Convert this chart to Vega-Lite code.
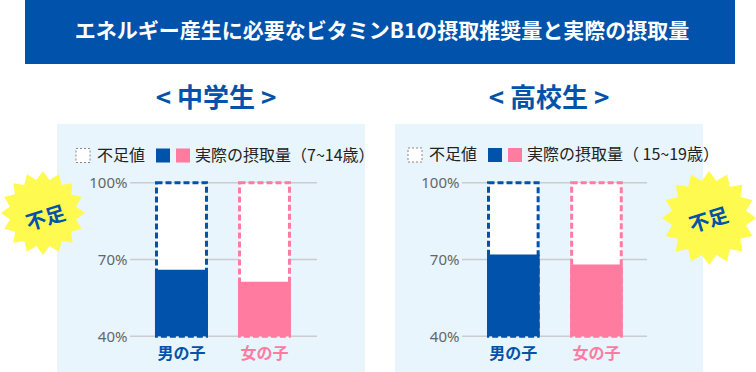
{
  "$schema": "https://vega.github.io/schema/vega-lite/v6.json",
  "background": "white",
  "padding": {"left": 0, "top": 0, "right": 0, "bottom": 0},
  "bounds": "flush",
  "spacing": 60,
  "config": {
    "view": {"stroke": null},
    "font": "Noto Sans CJK JP",
    "axis": {"grid": false, "domain": false, "ticks": false}
  },
  "datasets": {
    "bars": [
      {"group": "中学生", "gender": "男の子", "actual": 66, "recommended": 100},
      {"group": "中学生", "gender": "女の子", "actual": 61.3, "recommended": 100},
      {"group": "高校生", "gender": "男の子", "actual": 72, "recommended": 100},
      {"group": "高校生", "gender": "女の子", "actual": 68, "recommended": 100}
    ],
    "grid": [{"tick": 40}, {"tick": 70}, {"tick": 100}],
    "frame": [{"part": "background"}],
    "badge": [{"label": "不足"}],
    "heading": [{"text": "エネルギー産生に必要なビタミンB1の摂取推奨量と実際の摂取量"}]
  },
  "vconcat": [
    {
      "width": 710,
      "height": 64,
      "view": {"fill": "#0052AA", "stroke": null},
      "data": {"name": "heading"},
      "mark": {"type": "text", "color": "#FFFFFF", "fontSize": 21, "fontWeight": "bold", "font": "Noto Sans CJK JP", "align": "center", "baseline": "middle", "dx": 2},
      "encoding": {"text": {"field": "text"}}
    },
    {
      "hconcat": [
        {
          "width": 302,
          "height": 248,
          "title": {"text": "< 中学生 >", "fontSize": 26, "fontWeight": "bold", "color": "#0052AA", "font": "Noto Sans CJK JP", "anchor": "middle", "offset": 12, "dx": 40},
          "resolve": {"scale": {"fill": "independent"}, "legend": {"fill": "independent"}},
          "layer": [
            {
              "data": {"name": "frame"},
              "mark": {"type": "rect", "color": "#E8F5FD"},
              "encoding": {
                "x": {"datum": "男の子", "type": "nominal", "bandPosition": -1.849, "title": null,
                  "scale": {"type": "band", "domain": ["男の子", "女の子"], "paddingInner": 0.3614, "paddingOuter": 1, "align": 0.783},
                  "axis": {"offset": -36, "labelPadding": 9, "labelFontSize": 16, "labelFontWeight": "bold", "labelFont": "Noto Sans CJK JP", "labelAngle": 0, "title": null, "zindex": 1,
                    "labelColor": {"condition": {"test": "datum.value === '男の子'", "value": "#0052AA"}, "value": "#FF7BA0"}}},
                "x2": {"datum": "女の子", "bandPosition": 2.396},
                "y": {"datum": 123, "type": "quantitative", "title": null, "scale": {"domain": [26, 123], "nice": false, "zero": false},
                  "axis": {"values": [40, 70, 100], "offset": -105, "labelPadding": 3, "labelExpr": "datum.value + '%'", "labelFont": "Noto Sans", "labelFontSize": 15, "labelColor": "#666666", "title": null, "zindex": 1}},
                "y2": {"datum": 26}
              }
            },
            {
              "data": {"name": "grid"},
              "mark": {"type": "rule", "color": "#CCCCCC", "strokeWidth": 1.5},
              "encoding": {
                "y": {"field": "tick", "type": "quantitative", "title": null, "scale": {"domain": [26, 123], "nice": false, "zero": false},
                  "axis": {"values": [40, 70, 100], "offset": -105, "labelPadding": 3, "labelExpr": "datum.value + '%'", "labelFont": "Noto Sans", "labelFontSize": 15, "labelColor": "#666666", "title": null, "zindex": 1}},
                "x": {"datum": "男の子", "type": "nominal", "bandPosition": -0.4717, "title": null,
                  "scale": {"type": "band", "domain": ["男の子", "女の子"], "paddingInner": 0.3614, "paddingOuter": 1, "align": 0.783},
                  "axis": {"offset": -36, "labelPadding": 9, "labelFontSize": 16, "labelFontWeight": "bold", "labelFont": "Noto Sans CJK JP", "labelAngle": 0, "title": null, "zindex": 1,
                    "labelColor": {"condition": {"test": "datum.value === '男の子'", "value": "#0052AA"}, "value": "#FF7BA0"}}},
                "x2": {"datum": "女の子", "bandPosition": 1.4906}
              }
            },
            {
              "data": {"name": "bars"},
              "transform": [{"filter": "datum.group === '中学生'"}],
              "mark": {"type": "bar", "strokeWidth": 3, "strokeDash": [6, 3], "width": {"band": 0.943}},
              "encoding": {
                "x": {"field": "gender", "type": "nominal", "title": null,
                  "scale": {"type": "band", "domain": ["男の子", "女の子"], "paddingInner": 0.3614, "paddingOuter": 1, "align": 0.783},
                  "axis": {"offset": -36, "labelPadding": 9, "labelFontSize": 16, "labelFontWeight": "bold", "labelFont": "Noto Sans CJK JP", "labelAngle": 0, "title": null, "zindex": 1,
                    "labelColor": {"condition": {"test": "datum.value === '男の子'", "value": "#0052AA"}, "value": "#FF7BA0"}}},
                "y": {"field": "recommended", "type": "quantitative", "title": null, "scale": {"domain": [26, 123], "nice": false, "zero": false},
                  "axis": {"values": [40, 70, 100], "offset": -105, "labelPadding": 3, "labelExpr": "datum.value + '%'", "labelFont": "Noto Sans", "labelFontSize": 15, "labelColor": "#666666", "title": null, "zindex": 1}},
                "y2": {"datum": 40},
                "stroke": {"condition": {"test": "datum.gender === '男の子'", "value": "#0052AA"}, "value": "#FF7BA0"},
                "fill": {"datum": "不足値", "type": "nominal",
                  "scale": {"domain": ["不足値"], "range": ["#FFFFFF"]},
                  "legend": {"title": null, "orient": "none", "legendX": 50, "legendY": 23.5, "zindex": 1, "direction": "horizontal", "symbolType": "square", "symbolSize": 196, "labelOffset": 6, "labelFontSize": 16, "labelColor": "#222222", "labelFont": "Noto Sans CJK JP", "labelLimit": 0, "symbolOpacity": 1, "symbolStrokeWidth": 1, "symbolDash": [2, 2],
                    "symbolStrokeColor": {"expr": "datum.value === '不足値' ? '#888888' : 'transparent'"}}}
              }
            },
            {
              "data": {"name": "bars"},
              "transform": [{"filter": "datum.group === '中学生'"}],
              "mark": {"type": "bar"},
              "encoding": {
                "x": {"field": "gender", "type": "nominal", "title": null,
                  "scale": {"type": "band", "domain": ["男の子", "女の子"], "paddingInner": 0.3614, "paddingOuter": 1, "align": 0.783},
                  "axis": {"offset": -36, "labelPadding": 9, "labelFontSize": 16, "labelFontWeight": "bold", "labelFont": "Noto Sans CJK JP", "labelAngle": 0, "title": null, "zindex": 1,
                    "labelColor": {"condition": {"test": "datum.value === '男の子'", "value": "#0052AA"}, "value": "#FF7BA0"}}},
                "y": {"field": "actual", "type": "quantitative", "title": null, "scale": {"domain": [26, 123], "nice": false, "zero": false},
                  "axis": {"values": [40, 70, 100], "offset": -105, "labelPadding": 3, "labelExpr": "datum.value + '%'", "labelFont": "Noto Sans", "labelFontSize": 15, "labelColor": "#666666", "title": null, "zindex": 1}},
                "y2": {"datum": 40},
                "fill": {"field": "gender", "type": "nominal",
                  "scale": {"domain": ["男の子", "女の子"], "range": ["#0052AA", "#FF7BA0"]},
                  "legend": {"title": null, "orient": "none", "legendX": 130, "legendY": 23.5, "zindex": 1, "direction": "horizontal", "symbolType": "square", "symbolSize": 196, "labelOffset": 4, "columnPadding": 0, "labelFontSize": 16, "labelColor": "#222222", "labelFont": "Noto Sans CJK JP", "labelLimit": 0, "symbolOpacity": 1, "symbolStrokeWidth": 0,
                    "labelExpr": "datum.value === '女の子' ? '実際の摂取量（7~14歳）' : ''"}}
              }
            },
            {
              "data": {"name": "badge"},
              "mark": {"type": "point", "shape": "M0,-1L0.156,-0.785L0.383,-0.924L0.444,-0.665L0.707,-0.707L0.665,-0.444L0.924,-0.383L0.785,-0.156L1,0L0.785,0.156L0.924,0.383L0.665,0.444L0.707,0.707L0.444,0.665L0.383,0.924L0.156,0.785L0,1L-0.156,0.785L-0.383,0.924L-0.444,0.665L-0.707,0.707L-0.665,0.444L-0.924,0.383L-0.785,0.156L-1,0L-0.785,-0.156L-0.924,-0.383L-0.665,-0.444L-0.707,-0.707L-0.444,-0.665L-0.383,-0.924L-0.156,-0.785Z", "filled": true, "color": "#FFFA50", "opacity": 1, "size": 7056, "strokeWidth": 0},
              "encoding": {
                "x": {"datum": "男の子", "type": "nominal", "bandPosition": -2.113, "title": null,
                  "scale": {"type": "band", "domain": ["男の子", "女の子"], "paddingInner": 0.3614, "paddingOuter": 1, "align": 0.783},
                  "axis": {"offset": -36, "labelPadding": 9, "labelFontSize": 16, "labelFontWeight": "bold", "labelFont": "Noto Sans CJK JP", "labelAngle": 0, "title": null, "zindex": 1,
                    "labelColor": {"condition": {"test": "datum.value === '男の子'", "value": "#0052AA"}, "value": "#FF7BA0"}}},
                "y": {"datum": 88.2, "type": "quantitative", "title": null, "scale": {"domain": [26, 123], "nice": false, "zero": false},
                  "axis": {"values": [40, 70, 100], "offset": -105, "labelPadding": 3, "labelExpr": "datum.value + '%'", "labelFont": "Noto Sans", "labelFontSize": 15, "labelColor": "#666666", "title": null, "zindex": 1}}
              }
            },
            {
              "data": {"name": "badge"},
              "mark": {"type": "text", "fontSize": 20, "fontWeight": "bold", "color": "#0052AA", "angle": -17, "font": "Noto Sans CJK JP", "align": "center", "baseline": "middle"},
              "encoding": {
                "x": {"datum": "男の子", "type": "nominal", "bandPosition": -2.057, "title": null,
                  "scale": {"type": "band", "domain": ["男の子", "女の子"], "paddingInner": 0.3614, "paddingOuter": 1, "align": 0.783},
                  "axis": {"offset": -36, "labelPadding": 9, "labelFontSize": 16, "labelFontWeight": "bold", "labelFont": "Noto Sans CJK JP", "labelAngle": 0, "title": null, "zindex": 1,
                    "labelColor": {"condition": {"test": "datum.value === '男の子'", "value": "#0052AA"}, "value": "#FF7BA0"}}},
                "y": {"datum": 85.85, "type": "quantitative", "title": null, "scale": {"domain": [26, 123], "nice": false, "zero": false},
                  "axis": {"values": [40, 70, 100], "offset": -105, "labelPadding": 3, "labelExpr": "datum.value + '%'", "labelFont": "Noto Sans", "labelFontSize": 15, "labelColor": "#666666", "title": null, "zindex": 1}},
                "text": {"field": "label"}
              }
            }
          ]
        },
        {
          "width": 302,
          "height": 248,
          "title": {"text": "< 高校生 >", "fontSize": 26, "fontWeight": "bold", "color": "#0052AA", "font": "Noto Sans CJK JP", "anchor": "middle", "offset": 12, "dx": 41},
          "resolve": {"scale": {"fill": "independent"}, "legend": {"fill": "independent"}},
          "layer": [
            {
              "data": {"name": "frame"},
              "mark": {"type": "rect", "color": "#E8F5FD"},
              "encoding": {
                "x": {"datum": "男の子", "type": "nominal", "bandPosition": -1.749, "title": null,
                  "scale": {"type": "band", "domain": ["男の子", "女の子"], "paddingInner": 0.367, "paddingOuter": 1, "align": 0.782},
                  "axis": {"offset": -36, "labelPadding": 9, "labelFontSize": 16, "labelFontWeight": "bold", "labelFont": "Noto Sans CJK JP", "labelAngle": 0, "title": null, "zindex": 1,
                    "labelColor": {"condition": {"test": "datum.value === '男の子'", "value": "#0052AA"}, "value": "#FF7BA0"}}},
                "x2": {"datum": "女の子", "bandPosition": 2.527},
                "y": {"datum": 123, "type": "quantitative", "title": null, "scale": {"domain": [26, 123], "nice": false, "zero": false},
                  "axis": {"values": [40, 70, 100], "offset": -105, "labelPadding": 3, "labelExpr": "datum.value + '%'", "labelFont": "Noto Sans", "labelFontSize": 15, "labelColor": "#666666", "title": null, "zindex": 1}},
                "y2": {"datum": 26}
              }
            },
            {
              "data": {"name": "grid"},
              "mark": {"type": "rule", "color": "#CCCCCC", "strokeWidth": 1.5},
              "encoding": {
                "y": {"field": "tick", "type": "quantitative", "title": null, "scale": {"domain": [26, 123], "nice": false, "zero": false},
                  "axis": {"values": [40, 70, 100], "offset": -105, "labelPadding": 3, "labelExpr": "datum.value + '%'", "labelFont": "Noto Sans", "labelFontSize": 15, "labelColor": "#666666", "title": null, "zindex": 1}},
                "x": {"datum": "男の子", "type": "nominal", "bandPosition": -0.475, "title": null,
                  "scale": {"type": "band", "domain": ["男の子", "女の子"], "paddingInner": 0.367, "paddingOuter": 1, "align": 0.782},
                  "axis": {"offset": -36, "labelPadding": 9, "labelFontSize": 16, "labelFontWeight": "bold", "labelFont": "Noto Sans CJK JP", "labelAngle": 0, "title": null, "zindex": 1,
                    "labelColor": {"condition": {"test": "datum.value === '男の子'", "value": "#0052AA"}, "value": "#FF7BA0"}}},
                "x2": {"datum": "女の子", "bandPosition": 1.462}
              }
            },
            {
              "data": {"name": "bars"},
              "transform": [{"filter": "datum.group === '高校生'"}],
              "mark": {"type": "bar", "strokeWidth": 3, "strokeDash": [6, 3], "width": {"band": 0.943}},
              "encoding": {
                "x": {"field": "gender", "type": "nominal", "title": null,
                  "scale": {"type": "band", "domain": ["男の子", "女の子"], "paddingInner": 0.367, "paddingOuter": 1, "align": 0.782},
                  "axis": {"offset": -36, "labelPadding": 9, "labelFontSize": 16, "labelFontWeight": "bold", "labelFont": "Noto Sans CJK JP", "labelAngle": 0, "title": null, "zindex": 1,
                    "labelColor": {"condition": {"test": "datum.value === '男の子'", "value": "#0052AA"}, "value": "#FF7BA0"}}},
                "y": {"field": "recommended", "type": "quantitative", "title": null, "scale": {"domain": [26, 123], "nice": false, "zero": false},
                  "axis": {"values": [40, 70, 100], "offset": -105, "labelPadding": 3, "labelExpr": "datum.value + '%'", "labelFont": "Noto Sans", "labelFontSize": 15, "labelColor": "#666666", "title": null, "zindex": 1}},
                "y2": {"datum": 40},
                "stroke": {"condition": {"test": "datum.gender === '男の子'", "value": "#0052AA"}, "value": "#FF7BA0"},
                "fill": {"datum": "不足値", "type": "nominal",
                  "scale": {"domain": ["不足値"], "range": ["#FFFFFF"]},
                  "legend": {"title": null, "orient": "none", "legendX": 50, "legendY": 23, "zindex": 1, "direction": "horizontal", "symbolType": "square", "symbolSize": 196, "labelOffset": 6, "labelFontSize": 16, "labelColor": "#222222", "labelFont": "Noto Sans CJK JP", "labelLimit": 0, "symbolOpacity": 1, "symbolStrokeWidth": 1, "symbolDash": [2, 2],
                    "symbolStrokeColor": {"expr": "datum.value === '不足値' ? '#888888' : 'transparent'"}}}
              }
            },
            {
              "data": {"name": "bars"},
              "transform": [{"filter": "datum.group === '高校生'"}],
              "mark": {"type": "bar"},
              "encoding": {
                "x": {"field": "gender", "type": "nominal", "title": null,
                  "scale": {"type": "band", "domain": ["男の子", "女の子"], "paddingInner": 0.367, "paddingOuter": 1, "align": 0.782},
                  "axis": {"offset": -36, "labelPadding": 9, "labelFontSize": 16, "labelFontWeight": "bold", "labelFont": "Noto Sans CJK JP", "labelAngle": 0, "title": null, "zindex": 1,
                    "labelColor": {"condition": {"test": "datum.value === '男の子'", "value": "#0052AA"}, "value": "#FF7BA0"}}},
                "y": {"field": "actual", "type": "quantitative", "title": null, "scale": {"domain": [26, 123], "nice": false, "zero": false},
                  "axis": {"values": [40, 70, 100], "offset": -105, "labelPadding": 3, "labelExpr": "datum.value + '%'", "labelFont": "Noto Sans", "labelFontSize": 15, "labelColor": "#666666", "title": null, "zindex": 1}},
                "y2": {"datum": 40},
                "fill": {"field": "gender", "type": "nominal",
                  "scale": {"domain": ["男の子", "女の子"], "range": ["#0052AA", "#FF7BA0"]},
                  "legend": {"title": null, "orient": "none", "legendX": 130, "legendY": 23, "zindex": 1, "direction": "horizontal", "symbolType": "square", "symbolSize": 196, "labelOffset": 4, "columnPadding": 0, "labelFontSize": 16, "labelColor": "#222222", "labelFont": "Noto Sans CJK JP", "labelLimit": 0, "symbolOpacity": 1, "symbolStrokeWidth": 0,
                    "labelExpr": "datum.value === '女の子' ? '実際の摂取量（ 15~19歳）' : ''"}}
              }
            },
            {
              "data": {"name": "badge"},
              "mark": {"type": "point", "shape": "M0,-1L0.156,-0.785L0.383,-0.924L0.444,-0.665L0.707,-0.707L0.665,-0.444L0.924,-0.383L0.785,-0.156L1,0L0.785,0.156L0.924,0.383L0.665,0.444L0.707,0.707L0.444,0.665L0.383,0.924L0.156,0.785L0,1L-0.156,0.785L-0.383,0.924L-0.444,0.665L-0.707,0.707L-0.665,0.444L-0.924,0.383L-0.785,0.156L-1,0L-0.785,-0.156L-0.924,-0.383L-0.665,-0.444L-0.707,-0.707L-0.444,-0.665L-0.383,-0.924L-0.156,-0.785Z", "filled": true, "color": "#FFFA50", "opacity": 1, "size": 8836, "strokeWidth": 0},
              "encoding": {
                "x": {"datum": "女の子", "type": "nominal", "bandPosition": 2.641, "title": null,
                  "scale": {"type": "band", "domain": ["男の子", "女の子"], "paddingInner": 0.367, "paddingOuter": 1, "align": 0.782},
                  "axis": {"offset": -36, "labelPadding": 9, "labelFontSize": 16, "labelFontWeight": "bold", "labelFont": "Noto Sans CJK JP", "labelAngle": 0, "title": null, "zindex": 1,
                    "labelColor": {"condition": {"test": "datum.value === '男の子'", "value": "#0052AA"}, "value": "#FF7BA0"}}},
                "y": {"datum": 86.24, "type": "quantitative", "title": null, "scale": {"domain": [26, 123], "nice": false, "zero": false},
                  "axis": {"values": [40, 70, 100], "offset": -105, "labelPadding": 3, "labelExpr": "datum.value + '%'", "labelFont": "Noto Sans", "labelFontSize": 15, "labelColor": "#666666", "title": null, "zindex": 1}}
              }
            },
            {
              "data": {"name": "badge"},
              "mark": {"type": "text", "fontSize": 20, "fontWeight": "bold", "color": "#0052AA", "angle": -17, "font": "Noto Sans CJK JP", "align": "center", "baseline": "middle"},
              "encoding": {
                "x": {"datum": "女の子", "type": "nominal", "bandPosition": 2.641, "title": null,
                  "scale": {"type": "band", "domain": ["男の子", "女の子"], "paddingInner": 0.367, "paddingOuter": 1, "align": 0.782},
                  "axis": {"offset": -36, "labelPadding": 9, "labelFontSize": 16, "labelFontWeight": "bold", "labelFont": "Noto Sans CJK JP", "labelAngle": 0, "title": null, "zindex": 1,
                    "labelColor": {"condition": {"test": "datum.value === '男の子'", "value": "#0052AA"}, "value": "#FF7BA0"}}},
                "y": {"datum": 85.1, "type": "quantitative", "title": null, "scale": {"domain": [26, 123], "nice": false, "zero": false},
                  "axis": {"values": [40, 70, 100], "offset": -105, "labelPadding": 3, "labelExpr": "datum.value + '%'", "labelFont": "Noto Sans", "labelFontSize": 15, "labelColor": "#666666", "title": null, "zindex": 1}},
                "text": {"field": "label"}
              }
            }
          ]
        }
      ],
      "spacing": 30,
      "bounds": "flush",
      "resolve": {
        "scale": {"x": "independent", "y": "independent", "fill": "independent"},
        "axis": {"x": "independent", "y": "independent"},
        "legend": {"fill": "independent"}
      }
    }
  ]
}
